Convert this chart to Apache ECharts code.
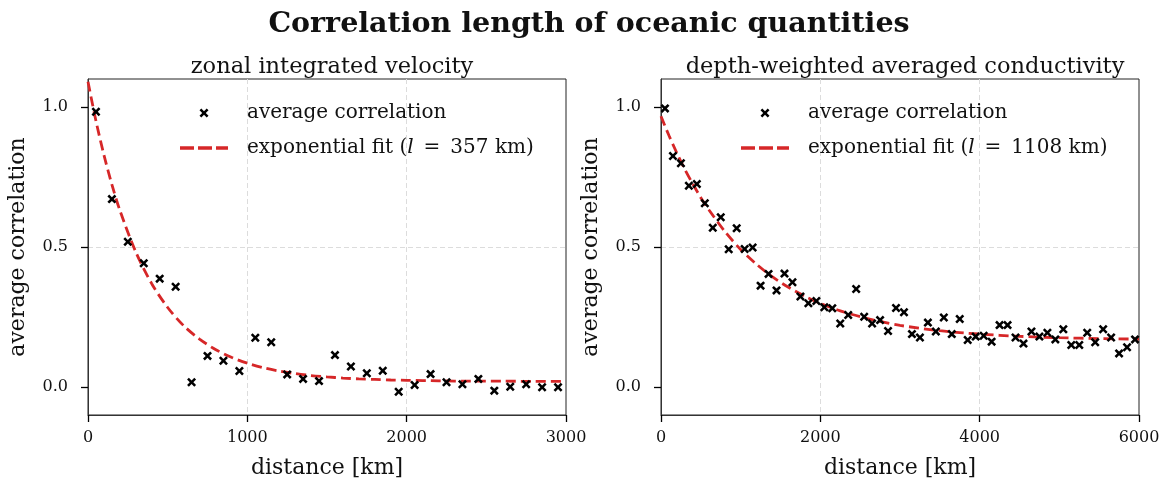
<!DOCTYPE html>
<html>
<head>
<meta charset="utf-8">
<script src="https://cdn.jsdelivr.net/npm/echarts@6/dist/echarts.min.js"></script>
<style>html,body{margin:0;padding:0;background:#fff}#c{width:1164px;height:487px}</style>
</head>
<body>
<div id="c"></div>
<script>
// ---- data ----
const leftDistance = [50,150,250,350,450,550,650,750,850,950,1050,1150,1250,1350,1450,1550,1650,1750,1850,1950,2050,2150,2250,2350,2450,2550,2650,2750,2850,2950];
const leftCorrelation = [0.983,0.671,0.519,0.442,0.387,0.358,0.017,0.111,0.094,0.057,0.176,0.160,0.045,0.029,0.021,0.114,0.073,0.049,0.058,-0.017,0.007,0.046,0.017,0.010,0.029,-0.013,0.001,0.010,-0.001,-0.001];
const leftFitDistance = [0,50,100,150,200,300,400,500,600,700,800,900,1000,1100,1200,1300,1400,1500,1600,1700,1800,1900,2000,2200,2400,2600,2800,3000];
const leftFitValue = [1.090,0.950,0.829,0.723,0.631,0.482,0.369,0.284,0.219,0.171,0.134,0.106,0.085,0.069,0.057,0.048,0.041,0.036,0.032,0.029,0.027,0.025,0.024,0.022,0.021,0.021,0.020,0.020];

const rightDistance = [50,150,250,350,450,550,650,750,850,950,1050,1150,1250,1350,1450,1550,1650,1750,1850,1950,2050,2150,2250,2350,2450,2550,2650,2750,2850,2950,3050,3150,3250,3350,3450,3550,3650,3750,3850,3950,4050,4150,4250,4350,4450,4550,4650,4750,4850,4950,5050,5150,5250,5350,5450,5550,5650,5750,5850,5950];
const rightCorrelation = [0.995,0.825,0.799,0.719,0.725,0.656,0.569,0.606,0.492,0.567,0.493,0.498,0.362,0.404,0.345,0.405,0.374,0.323,0.299,0.307,0.285,0.281,0.227,0.257,0.350,0.251,0.227,0.239,0.200,0.282,0.267,0.189,0.177,0.230,0.198,0.248,0.189,0.243,0.168,0.180,0.183,0.162,0.221,0.221,0.177,0.155,0.198,0.180,0.194,0.170,0.206,0.150,0.150,0.194,0.160,0.206,0.177,0.120,0.142,0.170];
const rightFitDistance = [0,100,200,300,400,500,600,800,1000,1200,1400,1600,1800,2000,2250,2500,2750,3000,3500,4000,4500,5000,5500,6000];
const rightFitValue = [0.967,0.898,0.835,0.777,0.725,0.676,0.633,0.556,0.491,0.438,0.393,0.356,0.325,0.299,0.272,0.251,0.234,0.220,0.201,0.189,0.181,0.176,0.173,0.171];

const yTicks = [0, 0.5, 1.0];
const leftXTicks = [0, 1000, 2000, 3000];
const rightXTicks = [0, 2000, 4000, 6000];

const mainTitle = 'Correlation length of oceanic quantities';
const leftTitle = 'zonal integrated velocity';
const rightTitle = 'depth-weighted averaged conductivity';
const scatterName = 'average correlation';
const leftFitName = 'exponential fit (l = 357 km)';
const rightFitName = 'exponential fit (l = 1108 km)';
const xName = 'distance [km]';
const yName = 'average correlation';

// ---- styling ----
const FONT = 'DejaVu Serif';
const RED = '#d62728';
const XMARK = 'path://M0,2 L2,0 L5,3 L8,0 L10,2 L7,5 L10,8 L8,10 L5,7 L2,10 L0,8 L3,5 Z';
const DASHICON = 'path://M0,0 H14 V3.6 H0 Z M18,0 H32 V3.6 H18 Z M36,0 H48 V3.6 H36 Z';

function zip(a, b) { return a.map((v, i) => [v, b[i]]); }

function xAxis(idx, ticks) {
  return {
    type: 'value', gridIndex: idx,
    min: ticks[0], max: ticks[ticks.length - 1], interval: ticks[1] - ticks[0],
    name: xName, nameLocation: 'middle', nameGap: 42,
    nameTextStyle: { fontFamily: FONT, fontSize: 22, color: '#111' },
    axisLine: { show: true, onZero: false, lineStyle: { color: '#333', width: 1 } },
    axisTick: { show: true, inside: false, length: 7, lineStyle: { color: '#000', width: 1.3 } },
    axisLabel: { fontFamily: FONT, fontSize: 16, color: '#111', margin: 15, formatter: v => String(v) },
    splitLine: { show: true, showMinLine: false, showMaxLine: false, lineStyle: { color: '#dcdcdc', type: [5, 3], width: 1 } }
  };
}
function yAxis(idx) {
  return {
    type: 'value', gridIndex: idx, min: -0.1, max: 1.1,
    name: yName, nameLocation: 'middle', nameGap: 59, nameRotate: 90,
    nameTextStyle: { fontFamily: FONT, fontSize: 22, color: '#111' },
    axisLine: { show: true, onZero: false, lineStyle: { color: '#333', width: 1 } },
    axisTick: { show: true, inside: false, length: 7, customValues: yTicks, lineStyle: { color: '#000', width: 1.3 } },
    axisLabel: { fontFamily: FONT, fontSize: 16, color: '#111', margin: 20, customValues: yTicks,
      formatter: v => v.toFixed(1) },
    splitLine: { show: true, showMinLine: false, showMaxLine: false, lineStyle: { color: '#dcdcdc', type: [5, 3], width: 1 } }
  };
}
function legend(left, fitName) {
  return {
    orient: 'vertical', left: left, top: 97, itemWidth: 48, itemHeight: 9, itemGap: 13,
    data: [{ name: scatterName }, { name: fitName, icon: DASHICON }],
    textStyle: { fontFamily: FONT, fontSize: 20, color: '#111', lineHeight: 22, padding: [0, 0, 0, 14],
      rich: { i: { fontFamily: FONT, fontStyle: 'italic', fontSize: 20, color: '#111' } } },
    formatter: n => n.replace('(l = ', '({i|l}\u2002=\u2002'),
    selectedMode: false
  };
}
function scatter(idx, xs, ys) {
  return { type: 'scatter', name: scatterName, xAxisIndex: idx, yAxisIndex: idx,
    data: zip(xs, ys), symbol: XMARK, symbolSize: 9, itemStyle: { color: '#000', opacity: 1 }, z: 3 };
}
function fit(idx, name, xs, ys) {
  return { type: 'line', name: name, xAxisIndex: idx, yAxisIndex: idx, data: zip(xs, ys),
    smooth: 0.3, showSymbol: false, symbol: 'none', clip: true,
    lineStyle: { color: RED, width: 2.8, type: [10, 5] }, itemStyle: { color: RED }, z: 2 };
}

const chart = echarts.init(document.getElementById('c'), null, { renderer: 'canvas' });
chart.setOption({
  backgroundColor: '#fff',
  animation: false,
  title: [
    { text: mainTitle, left: 584, top: 5, textAlign: 'center',
      textStyle: { fontFamily: FONT, fontSize: 28.5, fontWeight: 'bold', color: '#111' } },
    { text: leftTitle, left: 327, top: 51, textAlign: 'center',
      textStyle: { fontFamily: FONT, fontSize: 22.5, fontWeight: 'normal', color: '#111' } },
    { text: rightTitle, left: 900, top: 51, textAlign: 'center',
      textStyle: { fontFamily: FONT, fontSize: 22.5, fontWeight: 'normal', color: '#111' } }
  ],
  legend: [legend(175, leftFitName), legend(736, rightFitName)],
  grid: [
    { left: 88, top: 79, width: 478, height: 336, show: true, borderColor: '#222', borderWidth: 1, containLabel: false },
    { left: 661, top: 79, width: 478, height: 336, show: true, borderColor: '#222', borderWidth: 1, containLabel: false }
  ],
  xAxis: [xAxis(0, leftXTicks), xAxis(1, rightXTicks)],
  yAxis: [yAxis(0), yAxis(1)],
  series: [
    fit(0, leftFitName, leftFitDistance, leftFitValue),
    scatter(0, leftDistance, leftCorrelation),
    fit(1, rightFitName, rightFitDistance, rightFitValue),
    scatter(1, rightDistance, rightCorrelation)
  ]
});
</script>
</body>
</html>
